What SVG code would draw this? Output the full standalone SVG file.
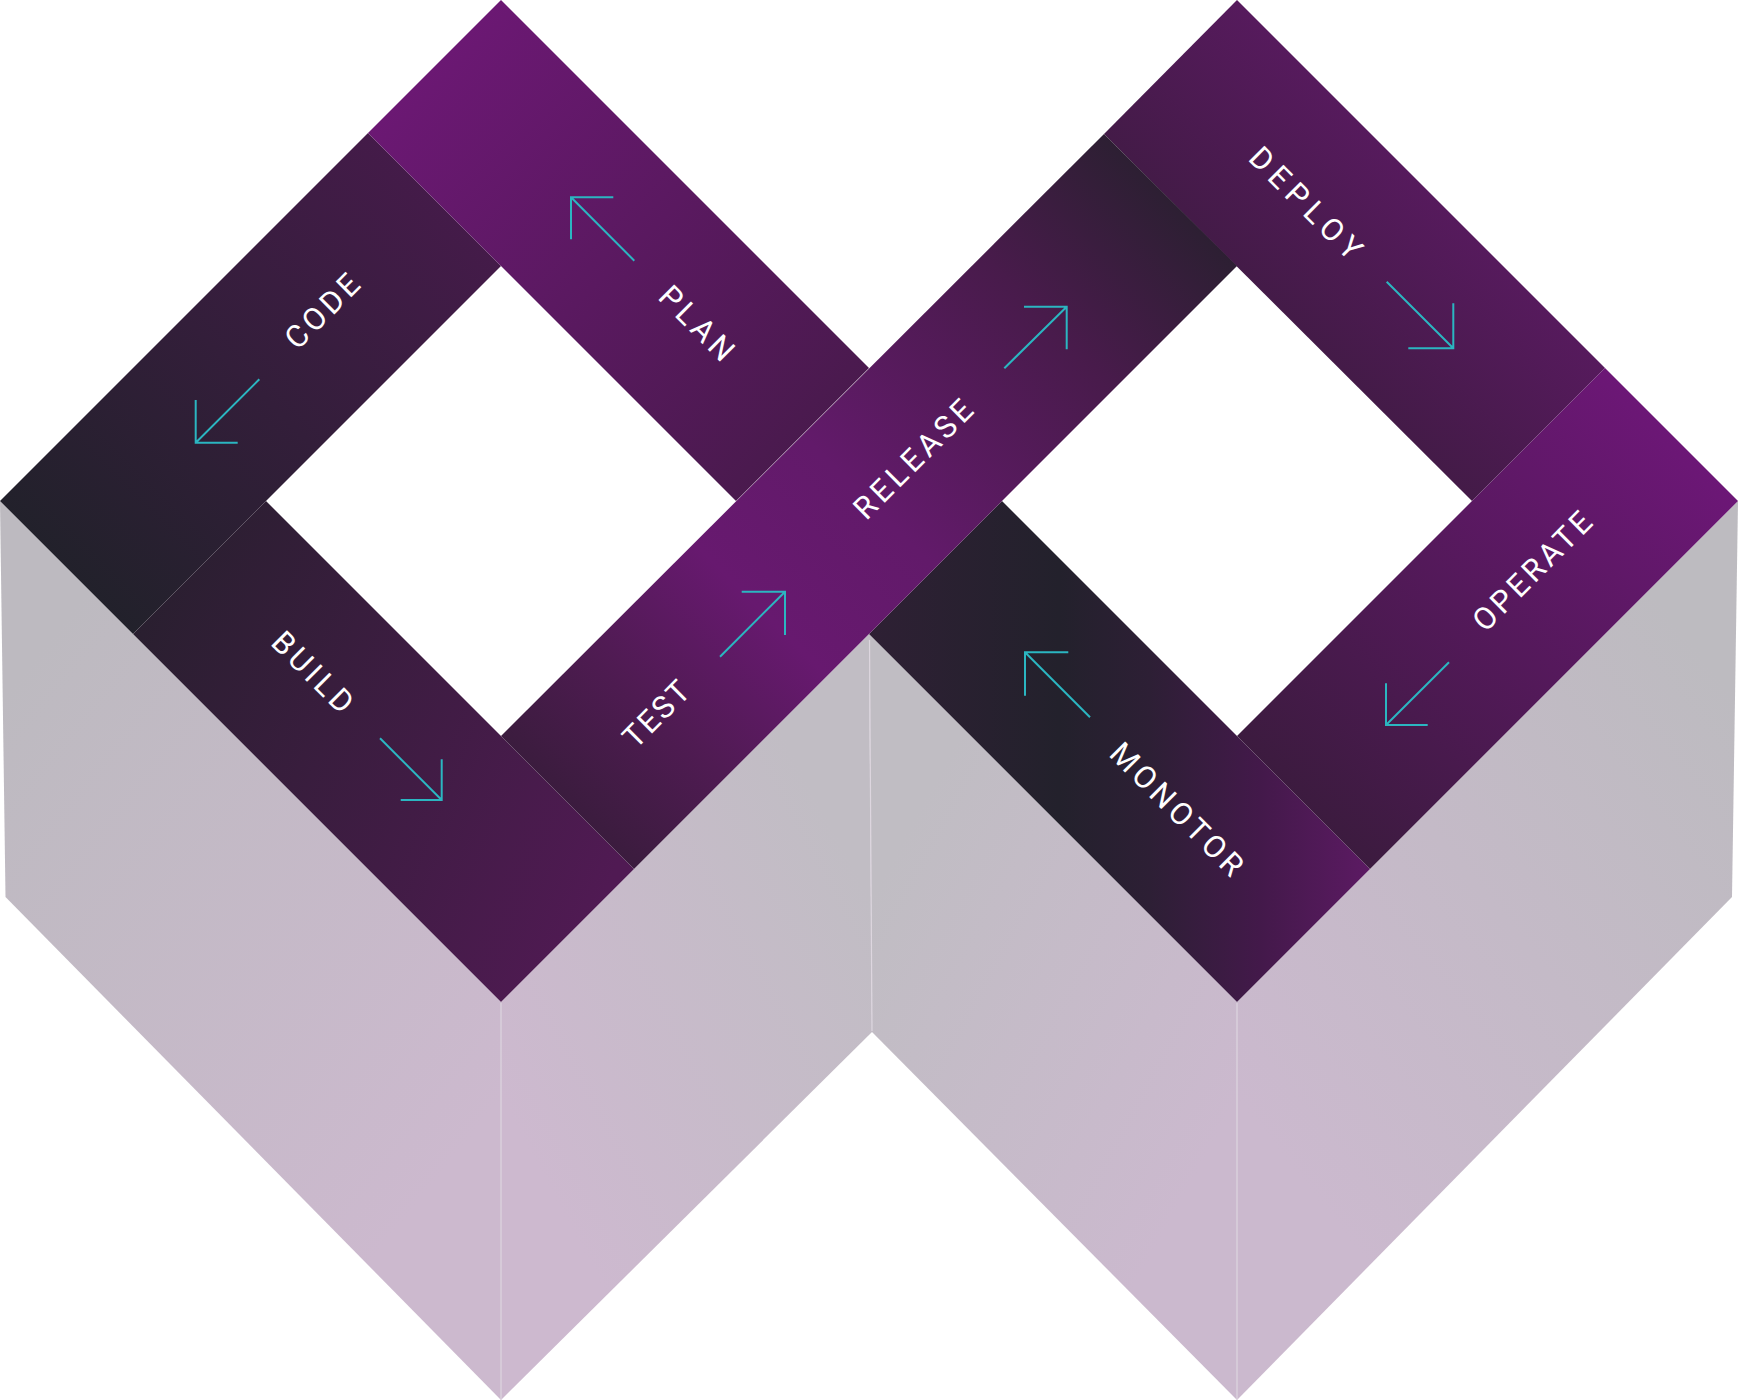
<svg xmlns="http://www.w3.org/2000/svg" width="1739" height="1400" viewBox="0 0 1739 1400">
<defs>
<style>
.lbl{fill:#ffffff;font-family:Roboto,"DejaVu Sans",sans-serif;font-size:31px;font-weight:400;text-anchor:middle}
.arr{fill:none;stroke:#2bb6c1;stroke-width:2;stroke-linecap:butt;stroke-linejoin:miter}
.seam{stroke:#ddd6df;stroke-width:1.2}
</style>
<linearGradient id="gF1" gradientUnits="userSpaceOnUse" x1="0" y1="700" x2="501" y2="1100"><stop offset="0" stop-color="#bdbac0"/><stop offset="1" stop-color="#ccb9ce"/></linearGradient>
<linearGradient id="gF2" gradientUnits="userSpaceOnUse" x1="501" y1="1100" x2="872" y2="900"><stop offset="0" stop-color="#cdb9cf"/><stop offset="1" stop-color="#c1bdc4"/></linearGradient>
<linearGradient id="gF3" gradientUnits="userSpaceOnUse" x1="869" y1="900" x2="1237" y2="1100"><stop offset="0" stop-color="#c0bdc3"/><stop offset="1" stop-color="#cbb9ce"/></linearGradient>
<linearGradient id="gF4" gradientUnits="userSpaceOnUse" x1="1237" y1="1100" x2="1738" y2="700"><stop offset="0" stop-color="#cbb9ce"/><stop offset="1" stop-color="#bdbbc0"/></linearGradient>
<linearGradient id="gCode" gradientUnits="userSpaceOnUse" x1="66" y1="567" x2="434" y2="200"><stop offset="0" stop-color="#22212b"/><stop offset="1" stop-color="#441b49"/></linearGradient>
<linearGradient id="gPlan" gradientUnits="userSpaceOnUse" x1="434" y1="67" x2="802" y2="435"><stop offset="0" stop-color="#6b1873"/><stop offset="1" stop-color="#4a1a4e"/></linearGradient>
<linearGradient id="gBuild" gradientUnits="userSpaceOnUse" x1="133" y1="620" x2="635" y2="820"><stop offset="0" stop-color="#291f2f"/><stop offset="1" stop-color="#501a53"/></linearGradient>
<linearGradient id="gRel" gradientUnits="userSpaceOnUse" x1="1170" y1="200" x2="567" y2="802"><stop offset="0" stop-color="#2d1f33"/><stop offset="0.2" stop-color="#481b4b"/><stop offset="0.5" stop-color="#621a6a"/><stop offset="0.68" stop-color="#67196f"/><stop offset="0.85" stop-color="#4f1b52"/><stop offset="1" stop-color="#3b1c3e"/></linearGradient>
<linearGradient id="gDeploy" gradientUnits="userSpaceOnUse" x1="1180" y1="320" x2="1440" y2="60"><stop offset="0" stop-color="#3c1b3f"/><stop offset="1" stop-color="#601a68"/></linearGradient>
<linearGradient id="gOper" gradientUnits="userSpaceOnUse" x1="1670" y1="435" x2="1303" y2="802"><stop offset="0" stop-color="#6c1776"/><stop offset="1" stop-color="#3c1b3f"/></linearGradient>
<linearGradient id="gMon" gradientUnits="userSpaceOnUse" x1="869" y1="0" x2="1370" y2="0"><stop offset="0" stop-color="#2e2034"/><stop offset="0.38" stop-color="#23212c"/><stop offset="0.56" stop-color="#2d1f35"/><stop offset="0.78" stop-color="#43194a"/><stop offset="1" stop-color="#5c1a63"/></linearGradient>
</defs>
<rect width="1739" height="1400" fill="#ffffff"/>
<g id="faces">
<polygon points="0,501 5.5,897 501,1400 501,1002" fill="url(#gF1)"/>
<polygon points="501,1002 501,1400 872,1032 869,634" fill="url(#gF2)"/>
<polygon points="869,634 872,1032 1237,1400 1237,1002" fill="url(#gF3)"/>
<polygon points="1237,1002 1237,1400 1732,897 1738,501" fill="url(#gF4)"/>
<line class="seam" x1="501" y1="1003" x2="501" y2="1400"/>
<line class="seam" x1="869.5" y1="640" x2="872" y2="1031"/>
<line class="seam" x1="1237" y1="1003" x2="1237" y2="1400"/>
</g>
<g id="code">
<polygon points="0,501 368,133 501,266 133,634" fill="url(#gCode)"/>
<text class="lbl" transform="translate(322,311) rotate(-45)" y="11" textLength="91" lengthAdjust="spacing">CODE</text>
</g>
<g id="build">
<polygon points="133,634 266,501 634,869 501,1002" fill="url(#gBuild)"/>
<text class="lbl" transform="translate(313,672) rotate(45)" y="11" textLength="101" lengthAdjust="spacing">BUILD</text>
</g>
<g id="plan">
<polygon points="368,133 501,0 869,368 736,501" fill="url(#gPlan)"/>
<text class="lbl" transform="translate(697,323) rotate(45)" y="11" textLength="92" lengthAdjust="spacing">PLAN</text>
</g>
<g id="monitor">
<polygon points="869,634 1002,501 1370,869 1237,1002" fill="url(#gMon)"/>
<text class="lbl" transform="translate(1177,809) rotate(45)" y="11" textLength="174" lengthAdjust="spacing">MONOTOR</text>
</g>
<g id="deploy">
<polygon points="1104,134 1237,0 1605,368 1472,501" fill="url(#gDeploy)"/>
<text class="lbl" transform="translate(1306,203) rotate(45)" y="11" textLength="145" lengthAdjust="spacing">DEPLOY</text>
</g>
<g id="operate">
<polygon points="1605,368 1738,501 1370,869 1237,736" fill="url(#gOper)"/>
<text class="lbl" transform="translate(1532,571) rotate(-45)" y="11" textLength="154" lengthAdjust="spacing">OPERATE</text>
</g>
<g id="release-test-band">
<polygon points="501,736 1104,134 1237,266 634,869" fill="url(#gRel)"/>
</g>
<g id="test">
<text class="lbl" transform="translate(656,714) rotate(-45)" y="11" textLength="80" lengthAdjust="spacing">TEST</text>
</g>
<g id="release">
<text class="lbl" transform="translate(913,459) rotate(-45)" y="11" textLength="154" lengthAdjust="spacing">RELEASE</text>
</g>
<g id="connectors">
<path class="arr" d="M259.3,379.3 L195.7,442.7 M195.7,400 V442.7 H237.7"/>
<path class="arr" d="M634.3,260.7 L571,197.3 M571,239.3 V197.3 H613.3"/>
<path class="arr" d="M380,738.3 L441.7,800 M441.7,759.3 V800 H400.7"/>
<path class="arr" d="M720,656.7 L785,591.7 M741.7,591.7 H785 V635"/>
<path class="arr" d="M1004.3,368.3 L1066.7,306.7 M1024,306.7 H1066.7 V349.3"/>
<path class="arr" d="M1386.7,281.7 L1453.3,348.3 M1453.3,303.3 V348.3 H1408.3"/>
<path class="arr" d="M1449,662.3 L1386,725 M1386,683.3 V725 H1427.7"/>
<path class="arr" d="M1090,717.3 L1025,652.3 M1068.3,652.3 H1025 V695.7"/>
</g>
</svg>
